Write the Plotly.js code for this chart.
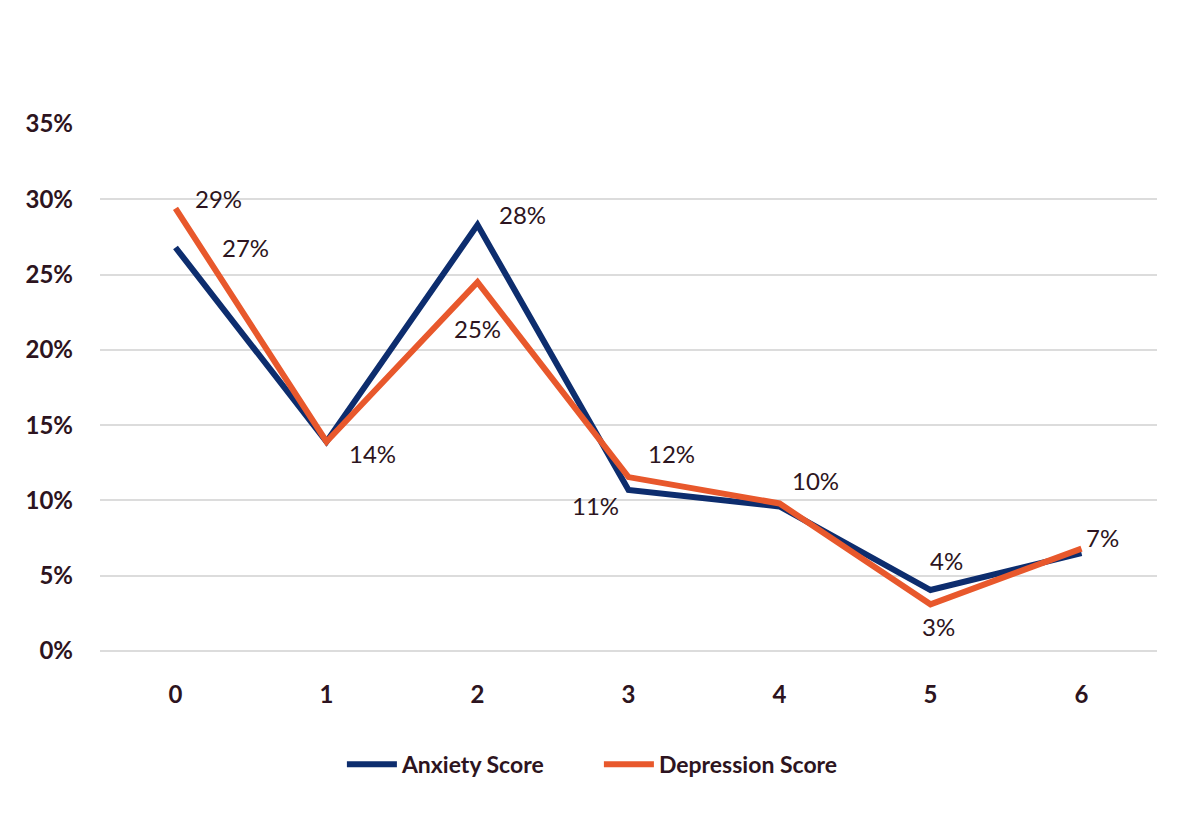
<!DOCTYPE html>
<html>
<head>
<meta charset="utf-8">
<script src="https://cdn.plot.ly/plotly-3.0.1.min.js"></script>
<style>html,body{margin:0;padding:0;background:#fff;}#chart{width:1200px;height:813px;}</style>
</head>
<body>
<div id="chart"></div>
<script>
// ---- data ----
var categories = ['0', '1', '2', '3', '4', '5', '6'];
var anxiety = [26.8, 13.9, 28.3, 10.7, 9.6, 4.05, 6.5];
var depression = [29.4, 13.9, 24.5, 11.55, 9.8, 3.1, 6.8];
var yTickVals = [0, 5, 10, 15, 20, 25, 30, 35];
var yTickText = ['0%', '5%', '10%', '15%', '20%', '25%', '30%', '35%'];
var anxietyShowLabel = [true, true, true, true, false, true, false];
var depressionShowLabel = [true, false, true, true, true, true, true];

// ---- style ----
var textColor = '#2d1420';
var anxietyColor = '#0d2d6e';
var depressionColor = '#e8582c';
var fontFamily = 'Lato, "Open Sans", sans-serif';
var anxietyShift = [[70, 0], [46, -12], [45, 10], [-33, -16], [0, 0], [16, 30], [0, 0]];
var depressionShift = [[43, 10], [0, 0], [0, -46], [43, 24], [36, 23], [8, -22], [21, 11]];

var traces = [
  {x: categories, y: anxiety, type: 'scatter', mode: 'lines', name: 'Anxiety Score',
   line: {color: anxietyColor, width: 6}, hoverinfo: 'skip'},
  {x: categories, y: depression, type: 'scatter', mode: 'lines', name: 'Depression Score',
   line: {color: depressionColor, width: 6}, hoverinfo: 'skip'}
];

var annotations = [];
function addLabels(vals, show, shifts) {
  for (var i = 0; i < vals.length; i++) {
    if (!show[i]) continue;
    annotations.push({
      x: categories[i], y: vals[i], xref: 'x', yref: 'y',
      text: Math.round(vals[i]) + '%', showarrow: false,
      xshift: shifts[i][0], yshift: shifts[i][1],
      font: {family: fontFamily, size: 24, color: textColor}
    });
  }
}
addLabels(anxiety, anxietyShowLabel, anxietyShift);
addLabels(depression, depressionShowLabel, depressionShift);

var layout = {
  width: 1200, height: 813,
  margin: {l: 100, r: 43, t: 124, b: 162},
  paper_bgcolor: '#fff', plot_bgcolor: '#fff',
  showlegend: true,
  legend: {orientation: 'h', x: 0.472, xanchor: 'center', y: -0.215, yanchor: 'middle',
           font: {family: fontFamily, size: 23, color: textColor, weight: 'bold'},
           itemwidth: 50, entrywidth: 192, tracegroupgap: 0},
  xaxis: {type: 'category', range: [-0.5, 6.5], showgrid: false, zeroline: false,
          showline: false, ticks: '', ticklabelstandoff: 27,
          tickfont: {family: fontFamily, size: 24, color: textColor, weight: 'bold'}},
  yaxis: {range: [0, 35], tickvals: yTickVals, ticktext: yTickText,
          showgrid: true, gridcolor: '#dcdcdc', gridwidth: 2,
          zeroline: true, zerolinecolor: '#dcdcdc', zerolinewidth: 2,
          showline: false, ticks: '', ticklabelstandoff: 26,
          tickfont: {family: fontFamily, size: 24, color: textColor, weight: 'bold'}},
  annotations: annotations
};

Plotly.newPlot('chart', traces, layout, {displayModeBar: false, staticPlot: true});
</script>
</body>
</html>
